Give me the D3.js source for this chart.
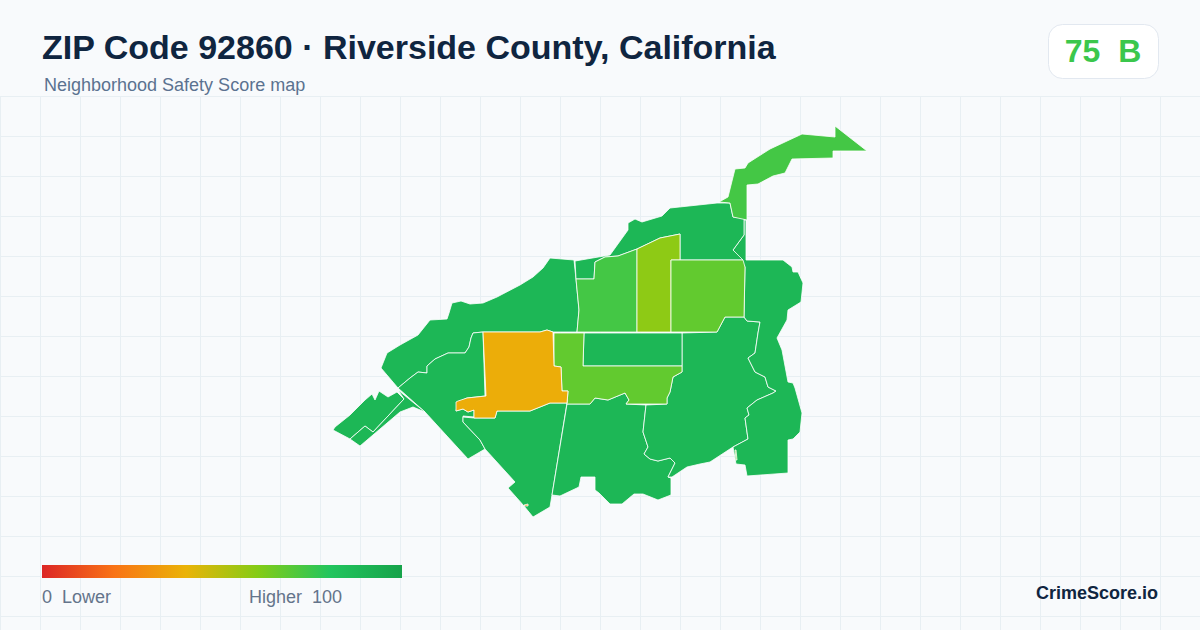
<!DOCTYPE html>
<html>
<head>
<meta charset="utf-8">
<script src="https://cdn.jsdelivr.net/npm/d3@7"></script>
<style>
  html, body { margin: 0; padding: 0; background: #f8fafc; }
  svg { display: block; }
  text { font-family: "Liberation Sans", Arial, sans-serif; white-space: pre; }
</style>
</head>
<body>
<div id="chart"></div>
<script>
// map units
const nwTract = [[61,248],[67,233],[80,225],[98,215],[110,200],[127,199],[129,193],[132,183],[141,181],[150,184],[163,183],[177,177],[200,165],[213,157],[223,148],[230,138],[254,140],[256,159],[259,190],[257,212],[233,212],[227,210],[220,212],[163,212],[153,213],[151,218],[149,227],[145,233],[128,233],[115,239],[107,246],[107,253],[98,252],[90,258],[78,268]];
const westTract = [[78,268],[90,258],[98,252],[107,253],[107,246],[115,239],[128,233],[145,233],[149,227],[151,218],[153,213],[163,212],[165,276],[147,278],[138,282],[136,291],[143,289],[148,292],[154,290],[154,297],[143,296],[143,302],[160,320],[165,329],[148,339],[105,292]];
const amberTract = [[163,212],[220,212],[227,210],[233,212],[234,246],[241,247],[242,271],[248,271],[247,283],[230,283],[210,291],[193,291],[177,291],[175,298],[154,298],[154,290],[148,292],[143,289],[136,291],[136,282],[138,281],[147,278],[166,276]];
const southWestTract = [[154,298],[175,298],[177,291],[193,291],[210,291],[230,283],[247,283],[232,375],[230,387],[213,397],[204,386],[188,368],[195,362],[165,329],[160,320],[143,302],[143,297]];
const limeSouthTract = [[234,213],[264,213],[263,246],[362,246],[362,252],[353,257],[350,272],[347,278],[347,284],[306,284],[309,280],[305,273],[288,280],[275,278],[270,284],[247,284],[248,271],[242,271],[241,247],[234,246]];
const boxTract = [[264,213],[362,213],[362,246],[263,246]];
const greenNorthTract = [[256,159],[274,159],[275,142],[285,137],[298,136],[317,129],[317,212],[257,212],[259,190]];
const hillTract = [[274,159],[256,159],[255,141],[290,135],[308,110],[308,103],[315,99],[322,102],[342,96],[350,88],[397,83],[410,83],[413,97],[424,98],[424,115],[413,130],[423,140],[360,140],[360,114],[340,118],[317,129],[298,136],[285,137],[275,142]];
const limeStripTract = [[317,129],[340,118],[360,114],[360,140],[351,140],[351,212],[317,212]];
const limeEastTract = [[351,140],[423,140],[425,147],[424,197],[405,197],[397,212],[351,212]];
const armTract = [[399,82],[408,77],[415,49],[425,48],[428,43],[450,29],[482,14],[515,17],[515,6],[547,31],[513,31],[513,38],[472,39],[465,53],[453,56],[438,64],[427,65],[427,100],[413,97],[410,83]];
const eastTract = [[424,100],[424,115],[413,130],[425,147],[424,197],[427,201],[440,202],[438,213],[435,233],[428,238],[435,252],[445,257],[448,267],[456,271],[453,273],[437,280],[427,288],[429,295],[425,298],[428,319],[413,327],[416,344],[425,345],[427,356],[468,353],[468,320],[473,319],[480,312],[482,293],[475,268],[473,263],[468,262],[462,230],[457,218],[467,200],[468,190],[481,182],[483,163],[478,152],[473,152],[472,147],[463,140],[426,140],[426,100]];
const centralTract = [[362,213],[397,212],[405,197],[424,197],[427,201],[440,202],[438,213],[435,233],[428,238],[435,252],[445,257],[448,267],[456,271],[453,273],[437,280],[427,288],[429,295],[425,298],[428,319],[413,327],[390,342],[380,344],[367,347],[352,357],[348,357],[355,343],[350,338],[338,341],[330,339],[324,334],[328,327],[323,312],[326,285],[347,284],[347,278],[350,272],[353,257],[362,252]];
const southTract = [[247,284],[270,284],[275,278],[288,280],[305,273],[309,280],[306,284],[326,285],[323,312],[328,327],[324,334],[330,339],[338,341],[350,338],[355,343],[348,357],[351,358],[351,375],[338,380],[323,374],[314,374],[302,384],[290,384],[279,373],[275,370],[275,357],[261,357],[259,367],[240,376],[232,375]];
const coastTract = [[13,310],[15,307],[30,295],[45,280],[52,274],[55,280],[59,271],[65,275],[68,277],[77,272],[84,279],[53,312],[45,306],[30,319]];
const coastLowTract = [[30,319],[45,306],[53,312],[84,279],[78,270],[105,292],[93,287],[80,292],[40,326]];
const speckTract = [[204,385],[208,384],[208,386],[205,386]];
const limeSpeckTract = [[415,330],[416,330],[417,340],[416,340]];

const tractRings = [nwTract, westTract, southWestTract, southTract, centralTract, eastTract, hillTract, coastTract, coastLowTract, armTract, boxTract, limeSouthTract, greenNorthTract, limeStripTract, limeEastTract, amberTract, speckTract, limeSpeckTract];
const tractScores = [88, 88, 88, 88, 88, 88, 88, 88, 88, 73, 88, 67, 73, 58, 67, 38, 30, 62];

const legendStops = [0, 20, 40, 60, 80, 100];
const legendColors = ["#dc2626", "#f97316", "#eab308", "#84cc16", "#22c55e", "#16a34a"];

const titleText = "ZIP Code 92860 · Riverside County, California";
const subtitleText = "Neighborhood Safety Score map";
const badgeText = "75  B";
const badgeScore = 75;
const legendLow = "0  Lower";
const legendHigh = "Higher  100";
const brandText = "CrimeScore.io";

const width = 1200, height = 630;
const color = d3.scaleLinear().domain(legendStops).range(legendColors);

const svg = d3.select("#chart").append("svg")
  .attr("width", width)
  .attr("height", height);

svg.append("rect").attr("width", width).attr("height", height).attr("fill", "#f8fafc");

// grid
const grid = svg.append("g").attr("stroke", "#e8eff3").attr("stroke-width", 1);
grid.selectAll(".v").data(d3.range(0.5, width, 40)).enter().append("line")
  .attr("x1", d => d).attr("x2", d => d).attr("y1", 96).attr("y2", height);
grid.selectAll(".h").data(d3.range(96.5, height, 40)).enter().append("line")
  .attr("x1", 0).attr("x2", width).attr("y1", d => d).attr("y2", d => d);

// map
const mapX = d3.scaleLinear().domain([0, 560]).range([320, 880]);
const mapY = d3.scaleLinear().domain([0, 420]).range([120, 540]);
const ringPath = d3.line().x(d => mapX(d[0])).y(d => mapY(d[1]));

svg.append("g").selectAll("path").data(tractRings).enter().append("path")
  .attr("d", d => ringPath(d) + "Z")
  .attr("fill", (d, i) => color(tractScores[i]))
  .attr("stroke", "#ffffff")
  .attr("stroke-width", 0.8)
  .attr("stroke-linejoin", "round");

// header
svg.append("text").attr("x", 42).attr("y", 59)
  .attr("font-size", 34).attr("font-weight", 700).attr("fill", "#0f2540")
  .text(titleText);
svg.append("text").attr("x", 44).attr("y", 91)
  .attr("font-size", 18).attr("fill", "#5b7290")
  .text(subtitleText);

svg.append("rect").attr("x", 1048.5).attr("y", 24.5).attr("width", 110).attr("height", 54).attr("rx", 14)
  .attr("fill", "#ffffff").attr("stroke", "#e2e8f0");
svg.append("text").attr("x", 1103).attr("y", 62).attr("text-anchor", "middle")
  .attr("font-size", 32).attr("font-weight", 700).attr("fill", color(badgeScore))
  .text(badgeText);

// legend
const legendX = d3.scaleLinear().domain([0, 100]).range([42, 402]);
const grad = svg.append("defs").append("linearGradient").attr("id", "legendGrad");
grad.selectAll("stop").data(legendStops).enter().append("stop")
  .attr("offset", d => d + "%")
  .attr("stop-color", d => color(d));
svg.append("rect").attr("x", legendX(0)).attr("y", 565)
  .attr("width", legendX(100) - legendX(0)).attr("height", 13)
  .attr("fill", "url(#legendGrad)");
svg.append("text").attr("x", 42).attr("y", 603)
  .attr("font-size", 18).attr("fill", "#64748b").text(legendLow);
svg.append("text").attr("x", 342).attr("y", 603).attr("text-anchor", "end")
  .attr("font-size", 18).attr("fill", "#64748b").text(legendHigh);

svg.append("text").attr("x", 1158).attr("y", 599).attr("text-anchor", "end")
  .attr("font-size", 18).attr("font-weight", 700).attr("fill", "#0f2540")
  .text(brandText);
</script>
</body>
</html>
